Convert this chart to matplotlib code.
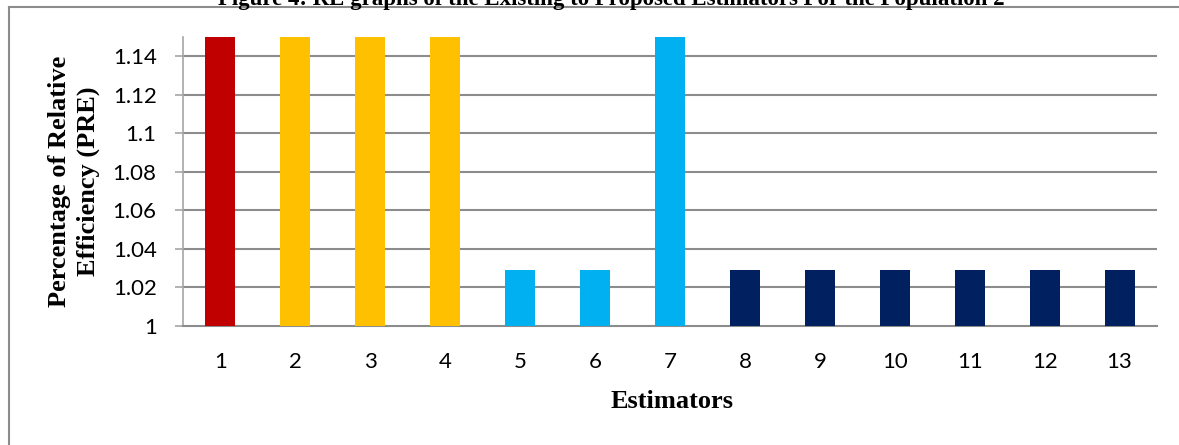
import numpy as np
import matplotlib
matplotlib.use("Agg")
import matplotlib.pyplot as plt
from matplotlib.lines import Line2D

# values (tall bars run past the top of the axis)
estimators = [str(i) for i in range(1, 14)]
pre = [1.15, 1.15, 1.15, 1.15, 1.029, 1.029, 1.15,
       1.029, 1.029, 1.029, 1.029, 1.029, 1.029]
bar_colors = ["#C00000", "#FFC000", "#FFC000", "#FFC000",
              "#00B0F0", "#00B0F0", "#00B0F0",
              "#002060", "#002060", "#002060", "#002060", "#002060", "#002060"]
yticks = [1, 1.02, 1.04, 1.06, 1.08, 1.1, 1.12, 1.14]
ytick_labels = ["1", "1.02", "1.04", "1.06", "1.08", "1.1", "1.12", "1.14"]

W, H = 1179, 445
fig = plt.figure(figsize=(W / 100, H / 100), dpi=100)
ax = fig.add_axes([183 / W, 1 - 326 / H, (1157 - 183) / W, (326 - 37) / H])

grid_col = "#8C8C8C"
x = np.arange(len(estimators))
ax.bar(x, pre, width=0.4, color=bar_colors, zorder=3)

ax.set_xlim(-0.5, len(estimators) - 0.5)
ax.set_ylim(1, 1.15)
ax.set_yticks(yticks)
ax.set_yticklabels(ytick_labels)
ax.set_xticks(x)
ax.set_xticklabels(estimators)

for v in yticks[1:]:
    ax.axhline(v, color=grid_col, lw=1.5, zorder=1)

for s in ["top", "right"]:
    ax.spines[s].set_visible(False)
ax.spines["left"].set_color("#A6A6A6")
ax.spines["left"].set_linewidth(1.2)
ax.spines["bottom"].set_color(grid_col)
ax.spines["bottom"].set_linewidth(1.5)

ax.tick_params(axis="y", length=6, width=1.2, color="#A6A6A6", pad=13,
               labelsize=16)
ax.tick_params(axis="x", length=0, pad=19, labelsize=16)
for lbl in ax.get_xticklabels() + ax.get_yticklabels():
    lbl.set_family("Lato")

serif = ["Liberation Serif", "DejaVu Serif"]
fig.text(74 / W, 1 - 181 / H, "Percentage of Relative\nEfficiency (PRE)",
         rotation=90, ha="center", va="center", ma="center",
         family=serif, weight="bold", fontsize=19, linespacing=1.3)
fig.text(672 / W, 1 - 401 / H, "Estimators", ha="center", va="center",
         family=serif, weight="bold", fontsize=19)

# caption, clipped by the top of the image as in the source
fig.text(611 / W, 1 - 5.5 / H,
         "Figure 4: RE graphs of the Existing to Proposed Estimators For the Population 2",
         ha="center", va="baseline", family=serif, weight="bold", fontsize=16.5)

# outer frame of the chart
fig.add_artist(Line2D([9 / W, 1], [1 - 7 / H, 1 - 7 / H], color="#8C8C8C", lw=1.5))
fig.add_artist(Line2D([9 / W, 9 / W], [0, 1 - 7 / H], color="#8C8C8C", lw=1.5))

fig.savefig("out.png", dpi=100)
